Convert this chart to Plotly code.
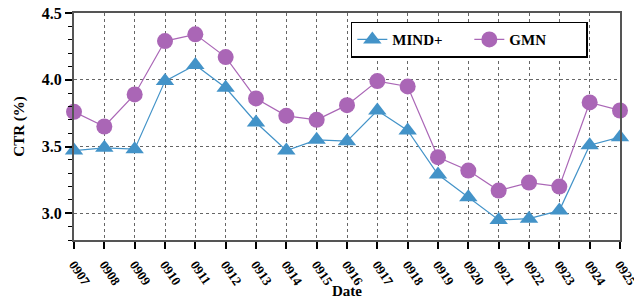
import plotly.graph_objects as go

dates = ["0907", "0908", "0909", "0910", "0911", "0912", "0913", "0914", "0915", "0916",
         "0917", "0918", "0919", "0920", "0921", "0922", "0923", "0924", "0925"]
mind_plus = [3.47, 3.49, 3.48, 3.99, 4.11, 3.94, 3.68, 3.47, 3.55, 3.54,
             3.77, 3.62, 3.29, 3.12, 2.95, 2.96, 3.02, 3.51, 3.57]
gmn = [3.76, 3.65, 3.89, 4.29, 4.34, 4.17, 3.86, 3.73, 3.70, 3.81,
       3.99, 3.95, 3.42, 3.32, 3.17, 3.23, 3.20, 3.83, 3.77]
y_ticks = [3.0, 3.5, 4.0, 4.5]

FONT = "Liberation Serif"
blue = "#4393c8"
purple = "#aa66b6"

fig = go.Figure()
fig.add_trace(go.Scatter(
    x=dates, y=mind_plus, name="<b>MIND+</b>", mode="lines+markers",
    line=dict(color=blue, width=1.2),
    marker=dict(symbol="triangle-up", size=16, color=blue),
    cliponaxis=False,
))
fig.add_trace(go.Scatter(
    x=dates, y=gmn, name="<b>GMN</b>", mode="lines+markers",
    line=dict(color=purple, width=1.2),
    marker=dict(symbol="circle", size=16, color=purple),
    cliponaxis=False,
))

axis_color = "#555555"
grid_color = "#666666"
fig.update_layout(
    width=634, height=300,
    margin=dict(l=74, r=14, t=13, b=60, autoexpand=False),
    plot_bgcolor="white", paper_bgcolor="white",
    font=dict(family=FONT, size=16, color="black"),
    showlegend=True,
    legend=dict(
        orientation="h", x=0.507, y=0.962, xanchor="left", yanchor="top",
        bordercolor="black", borderwidth=1.5, bgcolor="white",
        font=dict(family=FONT, size=15, color="black"),
        entrywidth=72, entrywidthmode="pixels",
        tracegroupgap=0,
    ),
    xaxis=dict(
        type="category", range=[0, len(dates) - 1], automargin=False,
        showline=True, linecolor=axis_color, linewidth=2, mirror=True,
        ticks="outside", ticklen=7, tickwidth=1.5, tickcolor="black",
        tickangle=56, ticklabelstandoff=3,
        tickfont=dict(family=FONT, size=13, weight="bold"),
        showgrid=True, gridcolor=grid_color, griddash="dot", gridwidth=1,
        zeroline=False,
    ),
    yaxis=dict(
        range=[2.8, 4.5], automargin=False,
        tickvals=y_ticks, ticktext=[f"{v:.1f}" for v in y_ticks],
        showline=True, linecolor=axis_color, linewidth=2, mirror=True,
        ticks="outside", ticklen=7, tickwidth=1.5, tickcolor="black",
        tickfont=dict(family=FONT, size=16, weight="bold"),
        minor=dict(dtick=0.1, tick0=2.8, ticks="outside", ticklen=4, tickcolor="black", tickwidth=1, showgrid=False),
        showgrid=True, gridcolor=grid_color, griddash="dot", gridwidth=1,
        title=dict(text="<b>CTR (%)</b>", font=dict(family=FONT, size=15), standoff=14),
        zeroline=False,
    ),
    annotations=[dict(
        text="<b>Date</b>", xref="paper", yref="paper", x=0.5, y=-0.225,
        xanchor="center", yanchor="middle", showarrow=False,
        font=dict(family=FONT, size=15, color="black"),
    )],
)

fig.write_html("out.html", config={"displayModeBar": False},
               post_script="document.body.style.margin='0';")
